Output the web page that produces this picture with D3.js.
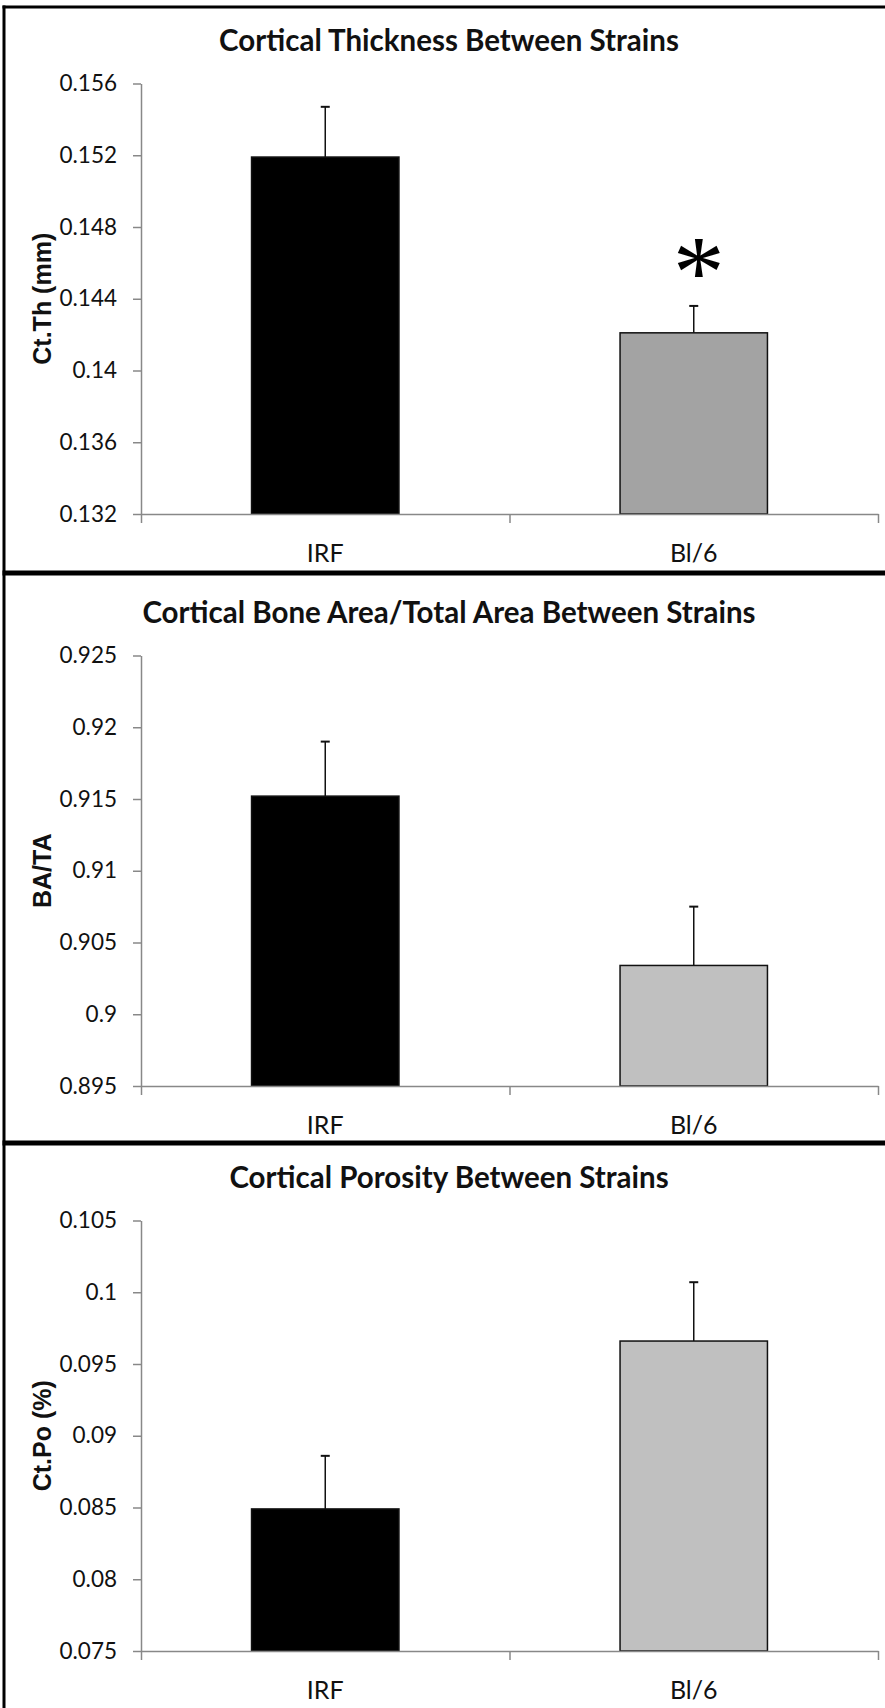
<!DOCTYPE html>
<html>
<head>
<meta charset="utf-8">
<script src="https://cdn.jsdelivr.net/npm/d3@7"></script>
<style>
  body { margin: 0; background: #fff; }
  svg { display: block; }
</style>
</head>
<body>
<div id="chart"></div>
<script>
// Categories shared by all three panels
var categories = ["IRF", "Bl/6"];

var titles = [
  "Cortical Thickness Between Strains",
  "Cortical Bone Area/Total Area Between Strains",
  "Cortical Porosity Between Strains"
];
var yLabels = ["Ct.Th (mm)", "BA/TA", "Ct.Po (%)"];

// Means and error (upper bar only)
var thicknessMeans = [0.1519, 0.1421];
var thicknessErrors = [0.0028, 0.0015];
var areaMeans = [0.9152, 0.9034];
var areaErrors = [0.0038, 0.0041];
var porosityMeans = [0.0849, 0.0966];
var porosityErrors = [0.0037, 0.0041];

// Tick labels of each y axis
var thicknessTicks = [0.132, 0.136, 0.14, 0.144, 0.148, 0.152, 0.156];
var areaTicks = [0.895, 0.9, 0.905, 0.91, 0.915, 0.92, 0.925];
var porosityTicks = [0.075, 0.08, 0.085, 0.09, 0.095, 0.1, 0.105];

// significance marker: panel index, category
var significance = [{panel: 0, category: "Bl/6", label: "*"}];

var width = 885, height = 1708;
var plot = {left: 141, right: 878, top: 83.5, bottom: 514};

var panels = [
  {title: titles[0], yLabel: yLabels[0], means: thicknessMeans, errors: thicknessErrors,
   ticks: thicknessTicks, colors: ["#000", "#a3a3a3"], top: 0},
  {title: titles[1], yLabel: yLabels[1], means: areaMeans, errors: areaErrors,
   ticks: areaTicks, colors: ["#000", "#c0c0c0"], top: 572},
  {title: titles[2], yLabel: yLabels[2], means: porosityMeans, errors: porosityErrors,
   ticks: porosityTicks, colors: ["#000", "#c0c0c0"], top: 1137}
];

var svg = d3.select("#chart").append("svg")
    .attr("width", width)
    .attr("height", height);

svg.append("rect").attr("width", width).attr("height", height).attr("fill", "#fff");

var x = d3.scaleBand()
    .domain(categories)
    .range([plot.left, plot.right])
    .paddingInner(0.6)
    .paddingOuter(0.3);

// category boundaries for the x axis ticks
var xEdges = d3.scaleLinear()
    .domain([0, categories.length])
    .range([plot.left, plot.right]);

panels.forEach(function(p, pi) {
  var g = svg.append("g").attr("transform", "translate(0," + p.top + ")");

  var y = d3.scaleLinear()
      .domain([p.ticks[0], p.ticks[p.ticks.length - 1]])
      .range([plot.bottom, plot.top]);

  g.append("text")
      .attr("x", 449)
      .attr("y", 51)
      .attr("text-anchor", "middle")
      .style("font-family", "Lato")
      .style("font-weight", "bold")
      .style("font-size", "29.5px")
      .style("fill", "#111")
      .text(p.title);

  // bars
  g.selectAll("rect.bar")
      .data(p.means)
      .enter()
    .append("rect")
      .attr("class", "bar")
      .attr("x", function(d, i) { return x(categories[i]); })
      .attr("y", function(d) { return y(d); })
      .attr("width", x.bandwidth())
      .attr("height", function(d) { return plot.bottom - y(d); })
      .style("fill", function(d, i) { return p.colors[i]; })
      .style("stroke", "#111")
      .style("stroke-width", 1.5);

  // error bars
  var err = g.append("g").selectAll("g")
      .data(p.means)
      .enter()
    .append("g");
  err.append("line")
      .attr("x1", function(d, i) { return x(categories[i]) + x.bandwidth() / 2; })
      .attr("x2", function(d, i) { return x(categories[i]) + x.bandwidth() / 2; })
      .attr("y1", function(d) { return y(d); })
      .attr("y2", function(d, i) { return y(d + p.errors[i]); })
      .style("stroke", "#111")
      .style("stroke-width", 1.5);
  err.append("line")
      .attr("x1", function(d, i) { return x(categories[i]) + x.bandwidth() / 2 - 4.5; })
      .attr("x2", function(d, i) { return x(categories[i]) + x.bandwidth() / 2 + 4.5; })
      .attr("y1", function(d, i) { return y(d + p.errors[i]); })
      .attr("y2", function(d, i) { return y(d + p.errors[i]); })
      .style("stroke", "#111")
      .style("stroke-width", 2);

  // y axis
  var yAxis = g.append("g")
      .attr("transform", "translate(" + plot.left + ",0)")
      .call(d3.axisLeft(y)
        .tickValues(p.ticks)
        .tickSize(8)
        .tickSizeOuter(0)
        .tickPadding(16)
        .tickFormat(function(d) { return +d.toFixed(3); }));
  yAxis.select(".domain").style("stroke", "#888").style("stroke-width", 1.5);
  yAxis.selectAll(".tick line").style("stroke", "#888").style("stroke-width", 1.5);
  yAxis.selectAll(".tick text")
      .style("font-family", "Lato")
      .style("font-size", "22.5px")
      .style("fill", "#111");

  // x axis with ticks at category edges
  var xAxis = g.append("g")
      .attr("transform", "translate(0," + plot.bottom + ")")
      .call(d3.axisBottom(xEdges)
        .tickValues(d3.range(categories.length + 1))
        .tickSize(9)
        .tickSizeOuter(0)
        .tickFormat(""));
  xAxis.select(".domain").style("stroke", "#888").style("stroke-width", 1.5);
  xAxis.selectAll(".tick line").style("stroke", "#888").style("stroke-width", 1.5);

  g.selectAll("text.cat")
      .data(categories)
      .enter()
    .append("text")
      .attr("class", "cat")
      .attr("x", function(d) { return x(d) + x.bandwidth() / 2; })
      .attr("y", plot.bottom + 48)
      .attr("text-anchor", "middle")
      .style("font-family", "Lato")
      .style("font-size", "25px")
      .style("fill", "#111")
      .text(function(d) { return d; });

  // rotated y label
  g.append("text")
      .attr("transform", "translate(51," + (plot.top + plot.bottom) / 2 + ") rotate(-90)")
      .attr("text-anchor", "middle")
      .style("font-family", "Liberation Sans")
      .style("font-weight", "bold")
      .style("font-size", "25px")
      .style("fill", "#111")
      .text(p.yLabel);

  significance.filter(function(s) { return s.panel === pi; }).forEach(function(s) {
    var i = categories.indexOf(s.category);
    g.append("text")
        .attr("x", x(s.category) + x.bandwidth() / 2 + 5)
        .attr("y", y(p.means[i] + p.errors[i]) + 1)
        .attr("text-anchor", "middle")
        .style("font-family", "Liberation Serif")
        .style("font-size", "104px")
        .style("fill", "#000")
        .text(s.label);
  });
});

// frame: top and left border, thick separators between panels
var frame = svg.append("g").style("stroke", "#000");
frame.append("line").attr("x1", 2.5).attr("x2", width).attr("y1", 7).attr("y2", 7).style("stroke-width", 3);
frame.append("line").attr("x1", 4).attr("x2", 4).attr("y1", 5.5).attr("y2", height).style("stroke-width", 3);
[573, 1143].forEach(function(yy) {
  frame.append("line").attr("x1", 2.5).attr("x2", width).attr("y1", yy).attr("y2", yy).style("stroke-width", 5);
});
</script>
</body>
</html>
